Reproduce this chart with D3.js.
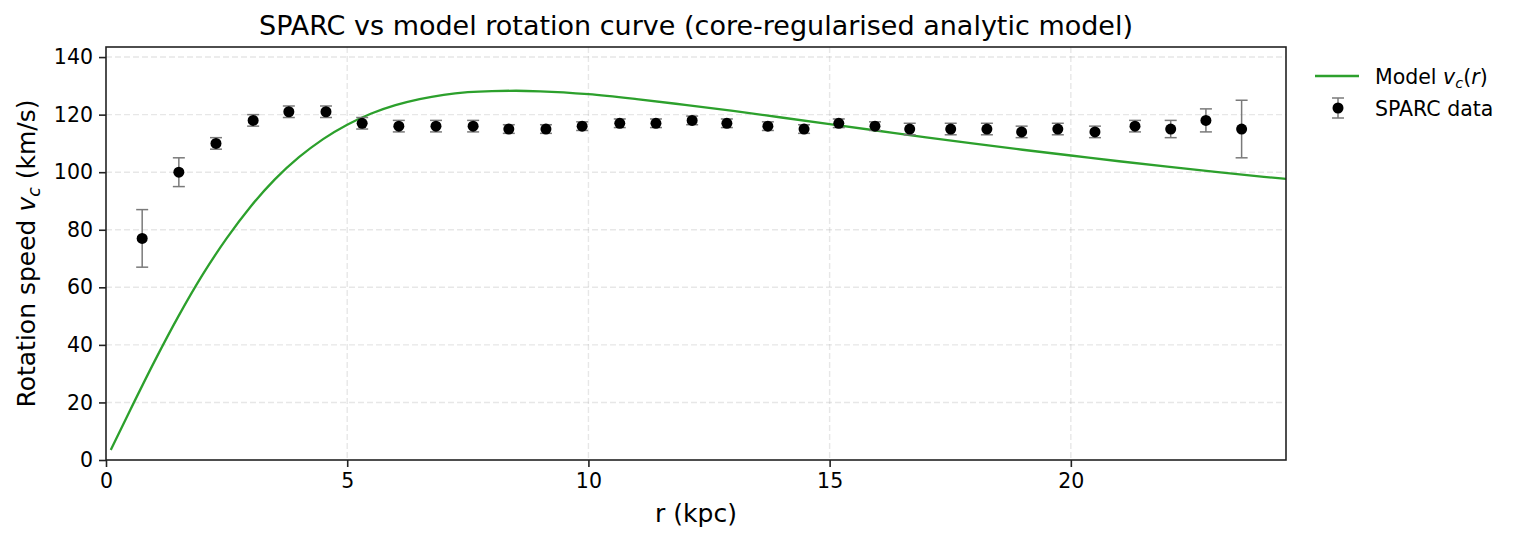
<!DOCTYPE html>
<html>
<head>
<meta charset="utf-8">
<script src="https://cdn.jsdelivr.net/npm/d3@7"></script>
<style>
  body { margin: 0; background: #fff; }
  svg { font-family: "DejaVu Sans", sans-serif; }
</style>
</head>
<body>
<svg width="1517" height="542"></svg>
<script>
// SPARC observed points
const radius = [0.75, 1.51, 2.28, 3.05, 3.79, 4.56, 5.31, 6.07, 6.84, 7.61, 8.35, 9.12, 9.87, 10.65,
  11.40, 12.15, 12.87, 13.72, 14.47, 15.19, 15.94, 16.66, 17.51, 18.26, 18.98, 19.73, 20.50,
  21.33, 22.07, 22.80, 23.54];
const speed = [77, 100, 110, 118, 121, 121, 117, 116, 116, 116, 115, 115, 116, 117,
  117, 118, 117, 116, 115, 117, 116, 115, 115, 115, 114, 115, 114,
  116, 115, 118, 115];
const speedErr = [10, 5, 2, 2, 2, 2, 2, 2, 2, 2, 1.5, 1.5, 1.5, 1.5,
  1.5, 1.5, 1.5, 1.5, 1.5, 1.5, 1.5, 2, 2, 2, 2, 2, 2,
  2, 3, 4, 10];

// model curve
const modelR = [0.1, 0.5, 1, 1.5, 2, 2.5, 3, 3.5, 4, 4.5, 5, 5.5, 6, 6.5, 7, 7.5, 8, 8.5, 9,
  10, 11, 12, 13, 14, 15, 16, 17, 18, 19, 20, 21, 22, 23, 24, 24.5];
const modelV = [3.5, 17.3, 34.1, 49.9, 64.3, 77.0, 88.1, 97.5, 105.2, 111.5, 116.5, 120.4, 123.3,
  125.4, 126.9, 127.8, 128.2, 128.3, 128.1, 127.1, 125.4, 123.4, 121.3, 119.0, 116.7, 114.4,
  112.1, 109.9, 107.8, 105.8, 103.8, 101.9, 100.1, 98.4, 97.6];

const xTicks = [0, 5, 10, 15, 20];
const yTicks = [0, 20, 40, 60, 80, 100, 120, 140];

const margin = {top: 47, right: 231, bottom: 82, left: 106};
const W = 1517 - margin.left - margin.right;
const H = 542 - margin.top - margin.bottom;

const svg = d3.select("svg");
const g = svg.append("g").attr("transform", `translate(${margin.left},${margin.top})`);

const x = d3.scaleLinear().domain([0, 24.46]).range([0, W]);
const y = d3.scaleLinear().domain([0, 143.5]).range([H, 0]);

// grid
g.append("g").selectAll("line").data(xTicks.slice(1)).enter().append("line")
  .attr("x1", d => x(d)).attr("x2", d => x(d)).attr("y1", 0).attr("y2", H)
  .attr("stroke", "#b0b0b0").attr("stroke-opacity", 0.3).attr("stroke-width", 1.4).attr("stroke-dasharray", "6,3");
g.append("g").selectAll("line").data(yTicks.slice(1)).enter().append("line")
  .attr("y1", d => y(d)).attr("y2", d => y(d)).attr("x1", 0).attr("x2", W)
  .attr("stroke", "#b0b0b0").attr("stroke-opacity", 0.3).attr("stroke-width", 1.4).attr("stroke-dasharray", "6,3");

g.append("clipPath").attr("id", "clip").append("rect").attr("width", W).attr("height", H);

// model line
const model = modelR.map((r, i) => [r, modelV[i]]);
g.append("path").datum(model)
  .attr("clip-path", "url(#clip)")
  .attr("fill", "none").attr("stroke", "#2ca02c").attr("stroke-width", 2.3)
  .attr("d", d3.line().x(d => x(d[0])).y(d => y(d[1])).curve(d3.curveMonotoneX));

// error bars
const pts = radius.map((r, i) => ({r: r, v: speed[i], e: speedErr[i]}));
const eb = g.append("g").attr("stroke", "#7a7a7a").attr("stroke-width", 1.5);
eb.selectAll(".bar").data(pts).enter().append("line")
  .attr("x1", d => x(d.r)).attr("x2", d => x(d.r))
  .attr("y1", d => y(d.v - d.e)).attr("y2", d => y(d.v + d.e));
eb.selectAll(".capT").data(pts).enter().append("line")
  .attr("x1", d => x(d.r) - 6).attr("x2", d => x(d.r) + 6)
  .attr("y1", d => y(d.v + d.e)).attr("y2", d => y(d.v + d.e));
eb.selectAll(".capB").data(pts).enter().append("line")
  .attr("x1", d => x(d.r) - 6).attr("x2", d => x(d.r) + 6)
  .attr("y1", d => y(d.v - d.e)).attr("y2", d => y(d.v - d.e));

g.append("g").selectAll("circle").data(pts).enter().append("circle")
  .attr("cx", d => x(d.r)).attr("cy", d => y(d.v)).attr("r", 5.5).attr("fill", "#000");

// axes
const xAxis = g.append("g").attr("transform", `translate(0,${H})`)
  .call(d3.axisBottom(x).tickValues(xTicks).tickSize(7).tickPadding(6));
const yAxis = g.append("g")
  .call(d3.axisLeft(y).tickValues(yTicks).tickSize(7).tickPadding(6));
[xAxis, yAxis].forEach(a => {
  a.select(".domain").remove();
  a.selectAll("text").attr("font-size", "20.5px").attr("fill", "#000").attr("font-family", "DejaVu Sans");
  a.selectAll("line").attr("stroke", "#222").attr("stroke-width", 1.6);
});
g.append("rect").attr("width", W).attr("height", H)
  .attr("fill", "none").attr("stroke", "#222").attr("stroke-width", 1.6);

// title and labels
svg.append("text").attr("x", margin.left + W / 2).attr("y", 35)
  .attr("text-anchor", "middle").attr("font-size", "27px").text("SPARC vs model rotation curve (core-regularised analytic model)");

svg.append("text").attr("x", margin.left + W / 2).attr("y", 522)
  .attr("text-anchor", "middle").attr("font-size", "25px").text("r (kpc)");

const yl = svg.append("text").attr("transform", `translate(35,${margin.top + H / 2}) rotate(-90)`)
  .attr("text-anchor", "middle").attr("font-size", "25px");
yl.append("tspan").text("Rotation speed ");
yl.append("tspan").attr("font-style", "italic").text("v");
yl.append("tspan").attr("font-style", "italic").attr("font-size", "17.5px").attr("dy", 5).text("c");
yl.append("tspan").attr("dy", -5).text(" (km/s)");

// legend
const lg = svg.append("g").attr("transform", "translate(1315,76)");
lg.append("line").attr("x1", 0).attr("x2", 44).attr("y1", 0).attr("y2", 0)
  .attr("stroke", "#2ca02c").attr("stroke-width", 2.3);
const t1 = lg.append("text").attr("x", 60).attr("y", 7.5).attr("font-size", "20.5px");
t1.append("tspan").text("Model ");
t1.append("tspan").attr("font-style", "italic").text("v");
t1.append("tspan").attr("font-style", "italic").attr("font-size", "14.5px").attr("dy", 4).text("c");
t1.append("tspan").attr("dy", -4).text("(");
t1.append("tspan").attr("font-style", "italic").text("r");
t1.append("tspan").text(")");

const l2 = lg.append("g").attr("transform", "translate(23,32)");
const lgStroke = {stroke: "#7a7a7a", w: 1.5};
l2.append("line").attr("x1", 0).attr("x2", 0).attr("y1", -10).attr("y2", 10).attr("stroke", lgStroke.stroke).attr("stroke-width", lgStroke.w);
l2.append("line").attr("x1", -6).attr("x2", 6).attr("y1", -10).attr("y2", -10).attr("stroke", lgStroke.stroke).attr("stroke-width", lgStroke.w);
l2.append("line").attr("x1", -6).attr("x2", 6).attr("y1", 10).attr("y2", 10).attr("stroke", lgStroke.stroke).attr("stroke-width", lgStroke.w);
l2.append("circle").attr("r", 5.5).attr("fill", "#000");
lg.append("text").attr("x", 60).attr("y", 39.5).attr("font-size", "20.5px").text("SPARC data");
</script>
</body>
</html>
